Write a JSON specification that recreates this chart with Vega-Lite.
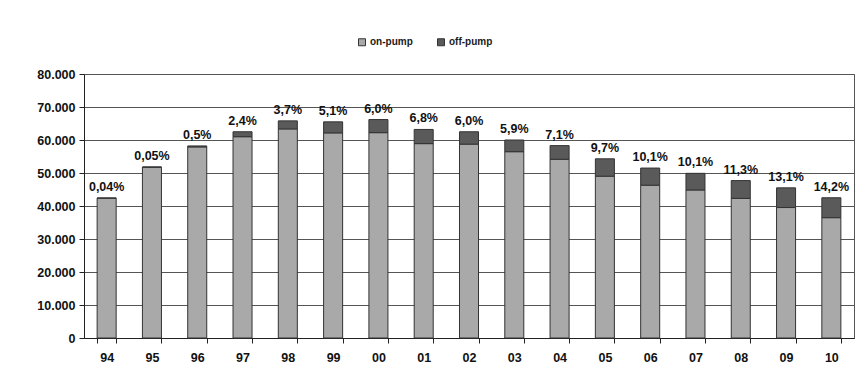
{
  "$schema": "https://vega.github.io/schema/vega-lite/v6.json",
  "width": 770,
  "height": 264,
  "autosize": {"type": "none"},
  "padding": {"left": 84, "top": 74, "right": 13, "bottom": 45},
  "background": "white",
  "config": {
    "locale": {"number": {"decimal": ",", "thousands": ".", "grouping": [3], "currency": ["", ""]}},
    "font": "Liberation Sans",
    "view": {"stroke": "#555555", "strokeWidth": 1},
    "axis": {
      "labelFont": "Liberation Sans",
      "labelFontWeight": "bold",
      "labelFontSize": 12.5,
      "labelColor": "#111111",
      "domainColor": "#222222",
      "tickColor": "#222222",
      "gridColor": "#555555",
      "gridOpacity": 1,
      "labelOverlap": false,
      "title": null
    }
  },
  "datasets": {
    "bars": [
      {"year": "94", "type": "on-pump", "count": 42383}, {"year": "94", "type": "off-pump", "count": 17},
      {"year": "95", "type": "on-pump", "count": 51774}, {"year": "95", "type": "off-pump", "count": 26},
      {"year": "96", "type": "on-pump", "count": 57909}, {"year": "96", "type": "off-pump", "count": 291},
      {"year": "97", "type": "on-pump", "count": 61000}, {"year": "97", "type": "off-pump", "count": 1500},
      {"year": "98", "type": "on-pump", "count": 63365}, {"year": "98", "type": "off-pump", "count": 2435},
      {"year": "99", "type": "on-pump", "count": 62160}, {"year": "99", "type": "off-pump", "count": 3340},
      {"year": "00", "type": "on-pump", "count": 62228}, {"year": "00", "type": "off-pump", "count": 3972},
      {"year": "01", "type": "on-pump", "count": 58902}, {"year": "01", "type": "off-pump", "count": 4298},
      {"year": "02", "type": "on-pump", "count": 58750}, {"year": "02", "type": "off-pump", "count": 3750},
      {"year": "03", "type": "on-pump", "count": 56460}, {"year": "03", "type": "off-pump", "count": 3540},
      {"year": "04", "type": "on-pump", "count": 54161}, {"year": "04", "type": "off-pump", "count": 4139},
      {"year": "05", "type": "on-pump", "count": 49033}, {"year": "05", "type": "off-pump", "count": 5267},
      {"year": "06", "type": "on-pump", "count": 46298}, {"year": "06", "type": "off-pump", "count": 5202},
      {"year": "07", "type": "on-pump", "count": 44860}, {"year": "07", "type": "off-pump", "count": 5040},
      {"year": "08", "type": "on-pump", "count": 42310}, {"year": "08", "type": "off-pump", "count": 5390},
      {"year": "09", "type": "on-pump", "count": 39539}, {"year": "09", "type": "off-pump", "count": 5961},
      {"year": "10", "type": "on-pump", "count": 36465}, {"year": "10", "type": "off-pump", "count": 6035}
    ],
    "labels": [
      {"year": "94", "total": 42400, "label": "0,04%"},
      {"year": "95", "total": 51800, "label": "0,05%"},
      {"year": "96", "total": 58200, "label": "0,5%"},
      {"year": "97", "total": 62500, "label": "2,4%"},
      {"year": "98", "total": 65800, "label": "3,7%"},
      {"year": "99", "total": 65500, "label": "5,1%"},
      {"year": "00", "total": 66200, "label": "6,0%"},
      {"year": "01", "total": 63200, "label": "6,8%"},
      {"year": "02", "total": 62500, "label": "6,0%"},
      {"year": "03", "total": 60000, "label": "5,9%"},
      {"year": "04", "total": 58300, "label": "7,1%"},
      {"year": "05", "total": 54300, "label": "9,7%"},
      {"year": "06", "total": 51500, "label": "10,1%"},
      {"year": "07", "total": 49900, "label": "10,1%"},
      {"year": "08", "total": 47700, "label": "11,3%"},
      {"year": "09", "total": 45500, "label": "13,1%"},
      {"year": "10", "total": 42500, "label": "14,2%"}
    ]
  },
  "encoding": {
    "x": {
      "field": "year", "type": "nominal", "sort": null,
      "scale": {"paddingInner": 0.58, "paddingOuter": 0.29},
      "axis": {"labelAngle": 0, "tickBand": "extent", "tickSize": 5, "labelPadding": 8, "grid": false}
    }
  },
  "layer": [
    {
      "data": {"name": "bars"},
      "mark": {"type": "bar", "stroke": "#333333", "strokeWidth": 1},
      "encoding": {
        "y": {
          "field": "count", "type": "quantitative", "stack": "zero",
          "scale": {"domain": [0, 80000], "nice": false},
          "axis": {"values": [0, 10000, 20000, 30000, 40000, 50000, 60000, 70000, 80000], "format": ",d", "tickSize": 5, "labelPadding": 4, "grid": true}
        },
        "color": {
          "field": "type", "type": "nominal", "sort": ["on-pump", "off-pump"],
          "scale": {"domain": ["on-pump", "off-pump"], "range": ["#a9a9a9", "#5a5a5a"]},
          "legend": {
            "orient": "none", "legendX": 273, "legendY": -37, "direction": "horizontal",
            "title": null, "symbolType": "square", "symbolSize": 49,
            "symbolStrokeColor": "#333333", "symbolStrokeWidth": 1,
            "labelFontSize": 10, "labelFontWeight": "bold", "labelColor": "#1a1a1a",
            "columnPadding": 22, "labelOffset": 3
          }
        }
      }
    },
    {
      "data": {"name": "labels"},
      "mark": {"type": "text", "dy": -11, "fontWeight": "bold", "fontSize": 12.5, "color": "#111111", "baseline": "middle"},
      "encoding": {
        "y": {
          "field": "total", "type": "quantitative",
          "scale": {"domain": [0, 80000], "nice": false},
          "axis": {"values": [0, 10000, 20000, 30000, 40000, 50000, 60000, 70000, 80000], "format": ",d", "tickSize": 5, "labelPadding": 4, "grid": true}
        },
        "text": {"field": "label"}
      }
    }
  ]
}
